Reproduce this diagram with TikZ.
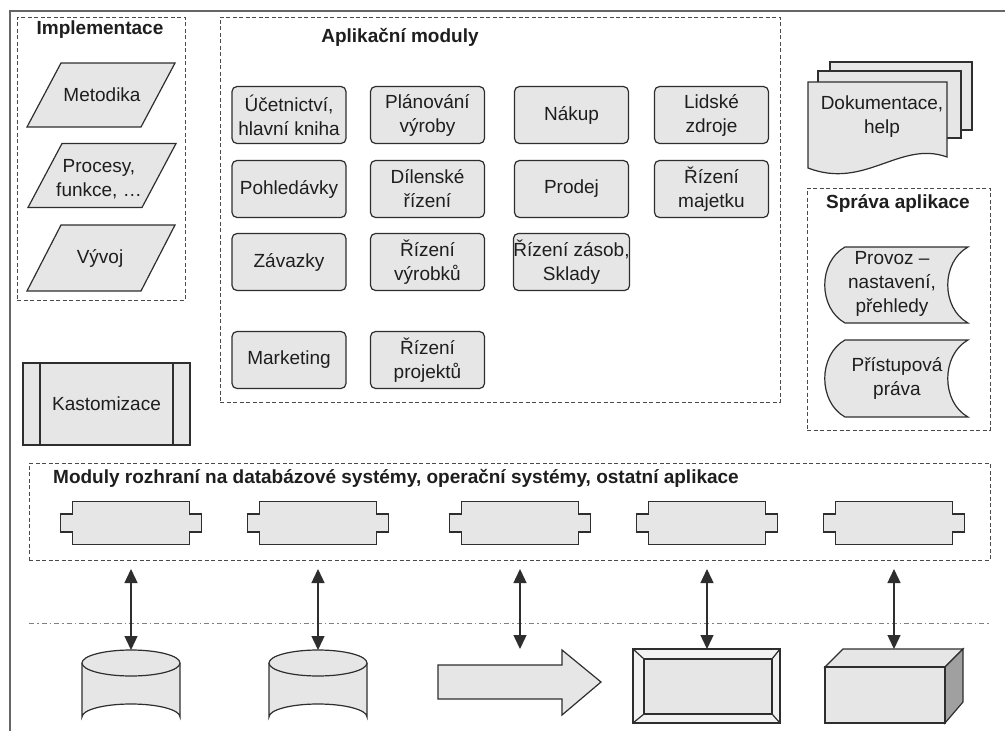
\documentclass[tikz,border=0pt]{standalone}
\usepackage{fontspec}
\setmainfont{Liberation Sans}
\usetikzlibrary{arrows.meta}
\definecolor{fillg}{HTML}{E6E6E6}
\definecolor{darkf}{HTML}{A0A0A0}
\definecolor{linec}{HTML}{2E2E2E}
\definecolor{dashc}{HTML}{4A4A4A}
\definecolor{framec}{HTML}{666666}
\definecolor{txtc}{HTML}{1E1E1E}
\begin{document}
\begin{tikzpicture}[x=1pt,y=-1pt,
 every node/.style={text=txtc, font=\fontsize{19}{24}\selectfont},
 shp/.style={draw=linec, line width=1.2pt, fill=fillg},
 dbox/.style={draw=dashc, line width=1pt, dash pattern=on 4pt off 2.5pt, inner sep=0pt},
 ttl/.style={font=\bfseries\fontsize{19}{24}\selectfont, inner sep=0pt},
 modbox/.style={shp, rounded corners=5pt, minimum width=114pt, minimum height=57pt, align=center, inner sep=0pt},
 lbl/.style={align=center, inner sep=0pt},
 dbl/.style={{Triangle[length=14pt,width=13pt]}-{Triangle[length=14pt,width=13pt]}, draw=linec, line width=1.4pt},
]
\useasboundingbox (0,0) rectangle (1005,731);
% outer frame
\draw[framec, line width=1.4pt] (10,731) -- (10,11) -- (1005,11);

% ---------- Implementace ----------
\node[dbox, minimum width=168pt, minimum height=283pt] (impl) at (101,158.5) {};
\node[ttl] (implT) at (100,30) {Implementace};
\draw[shp, shift={(101,95)}] (-40,-32) -- (74,-32) -- (40,32) -- (-74,32) -- cycle;
\node[lbl] (met) at (102,95) {Metodika};
\draw[shp, shift={(102,175.5)}] (-40,-32) -- (74,-32) -- (40,32) -- (-74,32) -- cycle;
\node[lbl] (proc) at (99,179) {Procesy,\\funkce, \dots};
\draw[shp, shift={(101,258)}] (-40,-33) -- (74,-33) -- (40,33) -- (-74,33) -- cycle;
\node[lbl] (vyv) at (100,258) {Vývoj};

% ---------- Kastomizace ----------
\node[shp, minimum width=167pt, minimum height=82pt, inner sep=0pt] (kast) at (106.5,404) {};
\draw[linec, line width=1.2pt] (40,363) -- (40,445) (173,363) -- (173,445);
\node[lbl] (kastT) at (106.5,404) {Kastomizace};

% ---------- Aplikacni moduly ----------
\node[dbox, minimum width=560pt, minimum height=385pt] (apl) at (500,209.5) {};
\node[ttl] (aplT) at (400,37) {Aplikační moduly};
\node[modbox] (m11) at (289,115) {Účetnictví,\\hlavní kniha};
\node[modbox] (m12) at (427.5,115) {Plánování\\výroby};
\node[modbox] (m13) at (571.5,115) {Nákup};
\node[modbox] (m14) at (711.5,115) {Lidské\\zdroje};
\node[modbox] (m21) at (289,189) {Pohledávky};
\node[modbox] (m22) at (427.5,189) {Dílenské\\řízení};
\node[modbox] (m23) at (571.5,189) {Prodej};
\node[modbox] (m24) at (711.5,189) {Řízení\\majetku};
\node[modbox] (m31) at (289,262) {Závazky};
\node[modbox] (m32) at (427.5,262) {Řízení\\výrobků};
\node[modbox] (m33) at (571.5,262) {Řízení zásob,\\Sklady};
\node[modbox] (m41) at (289,360) {Marketing};
\node[modbox] (m42) at (427.5,360) {Řízení\\projektů};

% ---------- Dokumentace ----------
\draw[shp] (830,130) -- (830,62) -- (972,62) -- (972,130) -- cycle;
\draw[shp] (818,138) -- (818,71) -- (961,71) -- (961,138) -- cycle;
\draw[shp] (808,168) -- (808,82) -- (947,82) -- (947,157)
  .. controls (900,140) and (865,190) .. (808,168) -- cycle;
\node[lbl] (dok) at (882,117) {Dokumentace,\\help};

% ---------- Sprava aplikace ----------
\node[dbox, minimum width=183pt, minimum height=242pt] (spr) at (898.5,309) {};
\node[ttl] (sprT) at (898,204) {Správa aplikace};
\draw[shp] (845,247) -- (968,247) .. controls (941,262) and (941,308) .. (968,323)
  -- (845,323) .. controls (818,308) and (818,262) .. (845,247) -- cycle;
\node[lbl] (prov) at (892,284) {Provoz –\\nastavení,\\přehledy};
\draw[shp] (845,340) -- (968,340) .. controls (941,355) and (941,402) .. (968,417)
  -- (845,417) .. controls (818,402) and (818,355) .. (845,340) -- cycle;
\node[lbl] (pris) at (897,378) {Přístupová\\práva};

% ---------- Moduly rozhrani ----------
\node[dbox, minimum width=961pt, minimum height=97pt] (roz) at (509.5,511.5) {};
\node[ttl, anchor=west] (rozT) at (53,478) {Moduly rozhraní na databázové systémy, operační systémy, ostatní aplikace};
\foreach \cx/\nm in {131/i1, 318/i2, 520/i3, 707/i4, 894/i5}{
  \draw[shp, shift={(\cx,523)}] (-58.5,-21.5) -- (58.5,-21.5) -- (58.5,-9) -- (70.5,-9) -- (70.5,9)
     -- (58.5,9) -- (58.5,21.5) -- (-58.5,21.5) -- (-58.5,9) -- (-70.5,9) -- (-70.5,-9) -- (-58.5,-9) -- cycle;
  \coordinate (\nm) at (\cx,569);
}

% dash-dot separator
\draw[gray, line width=1pt, dash pattern=on 5pt off 3pt on 1.5pt off 3pt] (29,623) -- (990,623);

% ---------- bottom shapes ----------
% cylinders
\foreach \cx/\nm in {131/b1, 318/b2}{
  \draw[shp] (\cx-49,663) -- (\cx-49,717) arc[start angle=180, end angle=360, x radius=49, y radius=13]
     -- (\cx+49,663);
  \draw[shp] (\cx,663) ellipse[x radius=49, y radius=13];
  \coordinate (\nm) at (\cx,650);
}
% big arrow
\draw[shp] (438,665) -- (562,665) -- (562,650) -- (601,682) -- (562,715) -- (562,699) -- (438,699) -- cycle;
\coordinate (b3) at (520,649);
% bevel rect
\draw[shp, fill=white!50!fillg] (633,649) rectangle (780,723);
\draw[shp] (644,659) rectangle (772,714);
\draw[linec, line width=1.2pt] (633,649) -- (644,659) (780,649) -- (772,659) (633,723) -- (644,714) (780,723) -- (772,714);
\coordinate (b4) at (707,649);
% cube
\draw[shp] (825,667) -- (843,649) -- (963,649) -- (945,667) -- cycle;
\draw[shp, fill=darkf] (945,667) -- (963,649) -- (963,702) -- (945,723) -- cycle;
\draw[shp] (825,667) rectangle (945,723);
\coordinate (b5) at (894,649);

% connectors
\draw[dbl] (i1) -- (b1);
\draw[dbl] (i2) -- (b2);
\draw[dbl] (i3) -- (b3);
\draw[dbl] (i4) -- (b4);
\draw[dbl] (i5) -- (b5);
\end{tikzpicture}
\end{document}
